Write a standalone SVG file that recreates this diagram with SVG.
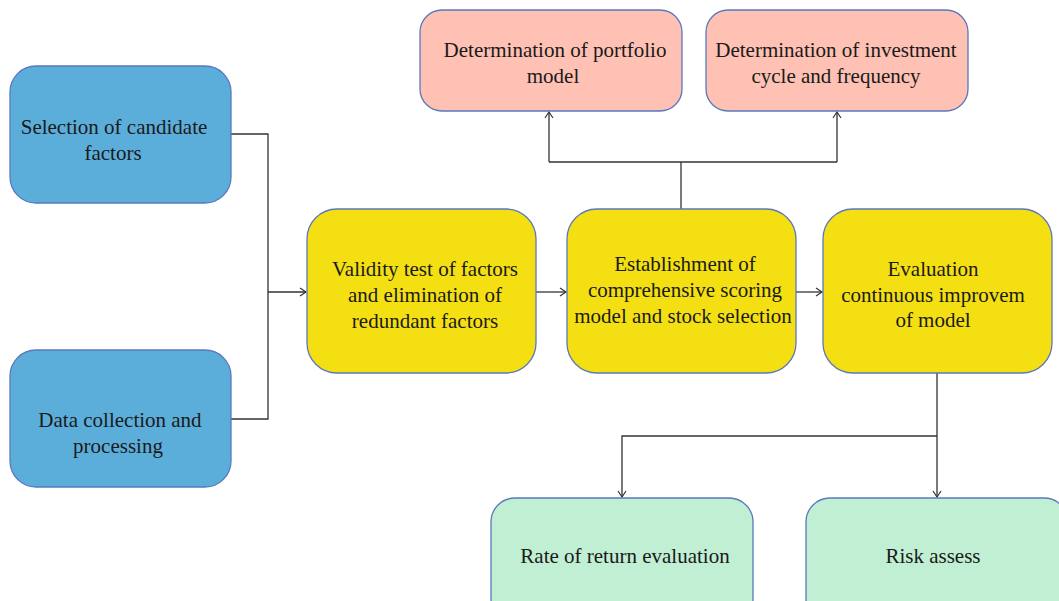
<svg xmlns="http://www.w3.org/2000/svg" width="1059" height="601" viewBox="0 0 1059 601">
<style>
.box{stroke:#5a78bd;stroke-width:1.3}
.blue{fill:#5caeda}
.yellow{fill:#f4e012}
.pink{fill:#fec1b4}
.green{fill:#c0efd3}
text{font-family:"Liberation Serif",serif;font-size:21px;fill:#1a1a1a;text-anchor:middle}
.conn{fill:none;stroke:#333;stroke-width:1.3}
</style>
<defs>
<marker id="arr" markerWidth="10" markerHeight="10" refX="8" refY="5" orient="auto" markerUnits="userSpaceOnUse">
<path d="M2,1 L8,5 L2,9" fill="none" stroke="#333" stroke-width="1.2"/>
</marker>
</defs>
<rect width="1059" height="601" fill="#fff"/>
<g id="connectors">
<path class="conn" d="M231,134 H268 V419 H231"/>
<path class="conn" d="M268,292 H306" marker-end="url(#arr)"/>
<path class="conn" d="M536,292 H566" marker-end="url(#arr)"/>
<path class="conn" d="M796,292 H822" marker-end="url(#arr)"/>
<path class="conn" d="M681,209 V162"/>
<path class="conn" d="M549,162 H837"/>
<path class="conn" d="M549,162 V112" marker-end="url(#arr)"/>
<path class="conn" d="M837,162 V112" marker-end="url(#arr)"/>
<path class="conn" d="M937,373 V497" marker-end="url(#arr)"/>
<path class="conn" d="M937,436 H622 V497" marker-end="url(#arr)"/>
</g>
<g id="selection">
<rect class="box blue" x="10" y="66" width="221" height="137" rx="26"/>
<text x="114" y="134">Selection of candidate</text>
<text x="113" y="160">factors</text>
</g>
<g id="data">
<rect class="box blue" x="10" y="350" width="221" height="137" rx="26"/>
<text x="120" y="427">Data collection and</text>
<text x="118" y="453">processing</text>
</g>
<g id="validity">
<rect class="box yellow" x="307" y="209" width="229" height="164" rx="30"/>
<text x="425" y="276">Validity test of factors</text>
<text x="425" y="302">and elimination of</text>
<text x="425" y="328">redundant factors</text>
</g>
<g id="establishment">
<rect class="box yellow" x="567" y="209" width="229" height="164" rx="30"/>
<text x="685" y="271">Establishment of</text>
<text x="685" y="297">comprehensive scoring</text>
<text x="683" y="323">model and stock selection</text>
</g>
<g id="evaluation">
<rect class="box yellow" x="823" y="209" width="229" height="164" rx="30"/>
<text x="933" y="276">Evaluation</text>
<text x="933" y="302">continuous improvem</text>
<text x="933" y="327">of model</text>
</g>
<g id="portfolio">
<rect class="box pink" x="420" y="10" width="262" height="101" rx="22"/>
<text x="555" y="57">Determination of portfolio</text>
<text x="553" y="83">model</text>
</g>
<g id="cycle">
<rect class="box pink" x="706" y="10" width="262" height="101" rx="22"/>
<text x="836" y="57">Determination of investment</text>
<text x="836" y="83">cycle and frequency</text>
</g>
<g id="return">
<rect class="box green" x="491" y="498" width="262" height="125" rx="24"/>
<text x="625" y="563">Rate of return evaluation</text>
</g>
<g id="risk">
<rect class="box green" x="806" y="498" width="262" height="125" rx="24"/>
<text x="933" y="563">Risk assess</text>
</g>
</svg>
